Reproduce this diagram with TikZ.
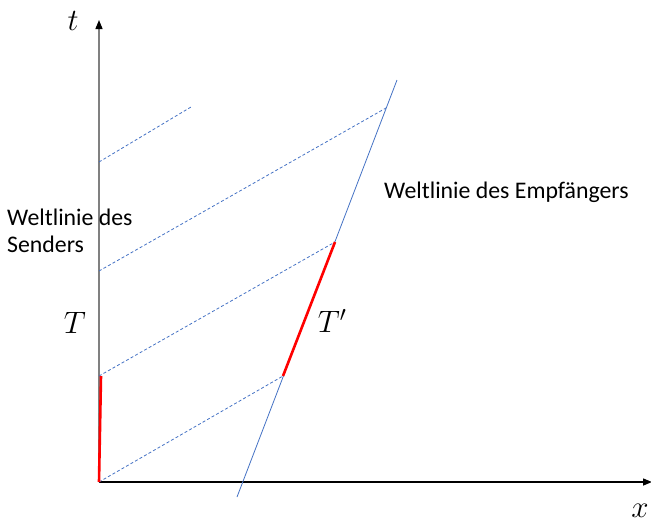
\documentclass[tikz,border=0pt]{standalone}
\usepackage{fix-cm}
\usepackage{fontspec}
\setmainfont{Carlito}
\usepackage{xcolor}
\usetikzlibrary{arrows.meta}
\definecolor{lineblue}{HTML}{4472C4}
\tikzset{
  axis/.style={-{Triangle[length=9pt,width=7pt,color=black]}, line width=1.4pt},
  worldline/.style={lineblue, line width=0.8pt},
  signal/.style={lineblue, dash pattern=on 3pt off 2.2pt, line width=0.8pt},
  interval/.style={red, line width=2.6pt},
  lbl/.style={font=\fontsize{23.8}{27}\selectfont, align=left, inner sep=0pt},
  sym/.style={font=\fontsize{31}{34}\selectfont, inner sep=0pt}}

\begin{document}
\begin{tikzpicture}[x=1pt, y=-1pt]
  \useasboundingbox (0,0) rectangle (651,523);
  % axes
  \coordinate (O) at (99,482);
  \coordinate (tend) at (99,20);
  \coordinate (xend) at (652,482);
  \draw[axis, black!50] (O) -- (tend);
  \draw[axis] (O) -- (xend);
  \node[sym] (tlab) at (73,21) {$t$};
  \node[sym] (xlab) at (640,511) {$x$};
  % receiver
  \coordinate (rA) at (237,497);
  \coordinate (rB) at (397,80);
  \draw[worldline] (rA) -- (rB);
  % signals
  \coordinate (s1) at (99,482);
  \coordinate (s2) at (99,376);
  \coordinate (s3) at (99,271);
  \coordinate (s4) at (99,162);
  \coordinate (e1) at (283,376);
  \coordinate (e2) at (335,242);
  \coordinate (e3) at (386,108);
  \coordinate (e4) at (191,107);
  \foreach \i in {1,...,4} \draw[signal] (s\i) -- (e\i);
  % intervals
  \draw[interval] (s1) -- (101,376) coordinate (s2r);
  \draw[interval] (e1) -- (e2);
  \node[sym] (T) at (75,323) {$T$};
  \node[sym] (Tp) at (332,321) {$T'$};
  % labels
  \node[lbl, anchor=west] (recv) at (384,192) {Weltlinie des Empfängers};
  \node[lbl, anchor=west] (send) at (7,231) {Weltlinie des\\Senders};
\end{tikzpicture}
\end{document}
